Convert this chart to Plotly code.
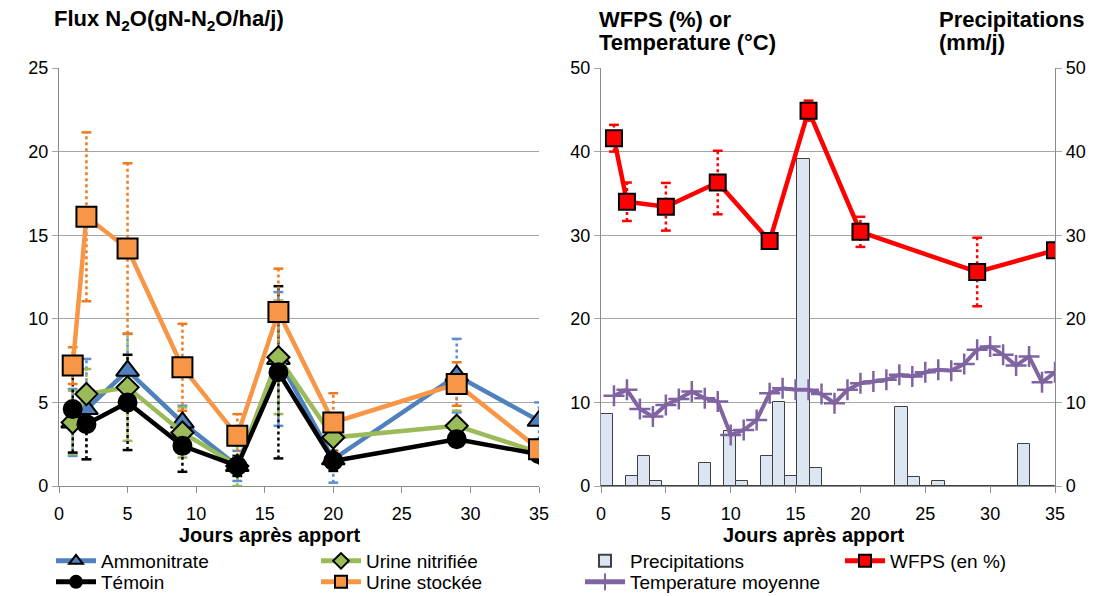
import plotly.graph_objects as go

W, H = 1109, 596

# ---------------- data ----------------
days = [1, 2, 5, 9, 13, 16, 20, 29, 35]

ammonitrate = [3.8, 4.6, 6.9, 3.8, 1.2, 7.6, 1.6, 6.6, 3.9]
ammonitrate_err = [2.0, 3.0, 2.2, 1.0, 0.9, 4.0, 1.4, 2.2, 1.1]

urine_nitrifiee = [3.8, 5.5, 5.9, 3.2, 1.2, 7.7, 2.9, 3.6, 2.0]
urine_nitrifiee_err = [1.9, 1.5, 3.2, 1.5, 1.2, 3.4, 1.0, 0.9, 0.4]

temoin = [4.6, 3.7, 5.0, 2.4, 1.2, 6.8, 1.5, 2.8, 1.9]
temoin_err = [2.6, 2.1, 2.85, 1.55, 0.6, 5.15, 0.6, 0.3, 0.3]

urine_stockee = [7.2, 16.1, 14.2, 7.1, 3.0, 10.4, 3.8, 6.1, 2.2]
urine_stockee_err = [1.1, 5.05, 5.1, 2.6, 1.3, 2.6, 1.75, 1.3, 0.3]

wfps = [41.6, 34.0, 33.4, 36.3, 29.3, 44.9, 30.4, 25.6, 28.2]
wfps_err = [1.6, 2.3, 2.85, 3.8, 0.0, 1.2, 1.8, 4.1, 0.0]

temp_days = list(range(1, 36))
temperature = [10.8, 11.5, 9.2, 8.3, 9.7, 10.4, 11.3, 10.5, 10.1, 6.1,
               6.7, 7.9, 11.1, 11.7, 11.5, 11.5, 11.0, 9.9, 11.5, 12.3,
               12.5, 12.7, 13.3, 13.1, 13.6, 13.9, 13.8, 14.6, 16.3, 16.7,
               15.7, 14.4, 15.5, 12.4, 13.6]

precip_slots = list(range(0, 37))
precipitation = [8.6, 0, 1.2, 3.6, 0.6, 0, 0, 0, 2.7, 0,
                 6.6, 0.6, 0, 3.6, 10.1, 1.2, 39.1, 2.1, 0, 0,
                 0, 0, 0, 0, 9.5, 1.1, 0, 0.6, 0, 0,
                 0, 0, 0, 0, 5.0, 0, 0]

x_ticks = [0, 5, 10, 15, 20, 25, 30, 35]

FONT = "Arial, Liberation Sans, sans-serif"
GRID = "#A6A6A6"
AXL = "#8C8C8C"


def err_segments(xs, ys, es):
    ex, ey = [], []
    for x, y, e in zip(xs, ys, es):
        if e <= 0:
            continue
        ex += [x, x, None]
        ey += [y - e, y + e, None]
    return ex, ey


fig = go.Figure()

# ---- left chart: error bars ----
left_series = [
    ("Ammonitrate", ammonitrate, ammonitrate_err, "#4F81BD", "#5B8FD0", "triangle-up", 20, "legend"),
    ("Urine nitrifiée", urine_nitrifiee, urine_nitrifiee_err, "#9BBB59", "#9BBB59", "diamond", 17, "legend2"),
    ("Témoin", temoin, temoin_err, "#000000", "#000000", "circle", 18, "legend3"),
    ("Urine stockée", urine_stockee, urine_stockee_err, "#F79646", "#EE7A1E", "square", 20, "legend4"),
]

for name, vals, errs, col, ecol, sym, sz, lg in left_series:
    ex, ey = err_segments(days, vals, errs)
    fig.add_trace(go.Scatter(x=ex, y=ey, mode="lines+markers", xaxis="x", yaxis="y",
                             line=dict(color=ecol, width=2.5, dash="dot"),
                             marker=dict(symbol="line-ew-open", size=7, line=dict(color=ecol, width=2.5)),
                             showlegend=False, hoverinfo="skip"))

for name, vals, errs, col, ecol, sym, sz, lg in left_series:
    fig.add_trace(go.Scatter(x=days, y=vals, name=name, mode="lines+markers", xaxis="x", yaxis="y",
                             line=dict(color=col, width=4.5),
                             marker=dict(symbol=sym, size=sz, color=col, line=dict(color="#000000", width=2)),
                             legend=lg))

# ---- right chart ----
fig.add_trace(go.Bar(x=precip_slots, y=precipitation, name="Precipitations", xaxis="x3", yaxis="y3",
                     width=1.0, marker=dict(color="#DCE6F2", line=dict(color="#404040", width=1)),
                     legend="legend5"))

ex, ey = err_segments(days, wfps, wfps_err)
fig.add_trace(go.Scatter(x=ex, y=ey, mode="lines+markers", xaxis="x2", yaxis="y2",
                         line=dict(color="#FF0000", width=2.5, dash="dot"),
                         marker=dict(symbol="line-ew-open", size=7, line=dict(color="#FF0000", width=2.5)),
                         showlegend=False, hoverinfo="skip"))

fig.add_trace(go.Scatter(x=days, y=wfps, name="WFPS (en %)", mode="lines+markers", xaxis="x2", yaxis="y2",
                         line=dict(color="#FF0000", width=4.5),
                         marker=dict(symbol="square", size=16, color="#FF0000", line=dict(color="#000000", width=2)),
                         legend="legend6"))

fig.add_trace(go.Scatter(x=temp_days, y=temperature, name="Temperature moyenne", mode="lines+markers",
                         xaxis="x2", yaxis="y2",
                         line=dict(color="#8064A2", width=4),
                         marker=dict(symbol="cross-thin-open", size=15, color="#8064A2",
                                     line=dict(color="#8064A2", width=2.5)),
                         legend="legend7"))

# ---------------- layout ----------------
def px_x(p):
    return p / W


def px_y(p):
    return 1 - p / H


L_dom = [px_x(59), px_x(539)]
R_dom = [px_x(601), px_x(1055)]
Y_dom = [px_y(486), px_y(68)]

tickfont = dict(family=FONT, size=18, color="#000000")

common_x = dict(range=[0, 35], tickvals=x_ticks, showgrid=False, zeroline=False, automargin=False,
                showline=True, linecolor=AXL, linewidth=1.3, ticks="outside", ticklen=6,
                tickcolor=AXL, tickfont=tickfont, fixedrange=True, ticklabelstandoff=5)

legend_common = dict(orientation="h", xanchor="left", yanchor="middle", bgcolor="rgba(0,0,0,0)",
                     font=dict(family=FONT, size=19, color="#000000"), itemwidth=40,
                     itemsizing="constant", tracegroupgap=0, borderwidth=0)

legend_pos = {
    "legend": (51, 561), "legend2": (316, 561), "legend3": (51, 582), "legend4": (316, 582),
    "legend5": (580, 561), "legend6": (840, 561), "legend7": (580, 582),
}

layout = dict(
    template="none",
    width=W, height=H,
    margin=dict(l=0, r=0, t=0, b=0, pad=0, autoexpand=False),
    paper_bgcolor="white", plot_bgcolor="white",
    font=dict(family=FONT, size=18, color="#000000"),
    xaxis=dict(domain=L_dom, anchor="y", **common_x),
    yaxis=dict(domain=Y_dom, anchor="x", range=[0, 25], tickvals=[0, 5, 10, 15, 20, 25],
               showgrid=True, gridcolor=GRID, gridwidth=1.3, zeroline=False, automargin=False,
               showline=True, linecolor=AXL, linewidth=1.3, ticks="outside", ticklen=6,
               tickcolor=GRID, tickfont=tickfont, fixedrange=True),
    xaxis3=dict(domain=R_dom, anchor="y3", range=[-0.5, 36.5], visible=False, fixedrange=True,
                automargin=False),
    yaxis3=dict(domain=Y_dom, anchor="x3", side="right", range=[0, 50], tickvals=[0, 10, 20, 30, 40, 50],
                showgrid=True, gridcolor=GRID, gridwidth=1.3, zeroline=False, automargin=False,
                showline=True, linecolor=AXL, linewidth=1.3, ticks="outside", ticklen=6,
                tickcolor=GRID, tickfont=tickfont, fixedrange=True),
    xaxis2=dict(overlaying="x3", anchor="y2", **common_x),
    yaxis2=dict(overlaying="y3", anchor="x2", side="left", range=[0, 50], tickvals=[0, 10, 20, 30, 40, 50],
                showgrid=False, zeroline=False, automargin=False,
                showline=True, linecolor=AXL, linewidth=1.3, ticks="outside", ticklen=6,
                tickcolor=GRID, tickfont=tickfont, fixedrange=True),
    bargap=0,
    showlegend=True,
)

for key, (lx, ly) in legend_pos.items():
    layout[key] = dict(x=px_x(lx), y=px_y(ly), **legend_common)

title_font = dict(family=FONT, size=22, color="#000000")
annotations = [
    dict(text="<b>Flux N<sub>2</sub>O(gN-N<sub>2</sub>O/ha/j)</b>", x=px_x(52), y=px_y(20)),
    dict(text="<b>WFPS (%) or</b>", x=px_x(597), y=px_y(20)),
    dict(text="<b>Temperature (°C)</b>", x=px_x(597), y=px_y(43)),
    dict(text="<b>Precipitations</b>", x=px_x(937), y=px_y(20)),
    dict(text="<b>(mm/j)</b>", x=px_x(937), y=px_y(43)),
]
for a in annotations:
    a.update(xref="paper", yref="paper", xanchor="left", yanchor="middle", showarrow=False, font=title_font)

axis_title_font = dict(family=FONT, size=20, color="#000000")
annotations += [
    dict(text="<b>Jours après apport</b>", x=px_x(270), y=px_y(535), xref="paper", yref="paper",
         xanchor="center", yanchor="middle", showarrow=False, font=axis_title_font),
    dict(text="<b>Jours après apport</b>", x=px_x(814), y=px_y(535), xref="paper", yref="paper",
         xanchor="center", yanchor="middle", showarrow=False, font=axis_title_font),
]
layout["annotations"] = annotations

fig.update_layout(**layout)
fig.write_html("out.html", config={"displayModeBar": False})

# remove the default page margin so the figure sits at the top-left corner
with open("out.html", "r", encoding="utf-8") as f:
    html = f.read()
html = html.replace("<head>", "<head><style>html,body{margin:0;padding:0;overflow:hidden;}</style>", 1)
with open("out.html", "w", encoding="utf-8") as f:
    f.write(html)
